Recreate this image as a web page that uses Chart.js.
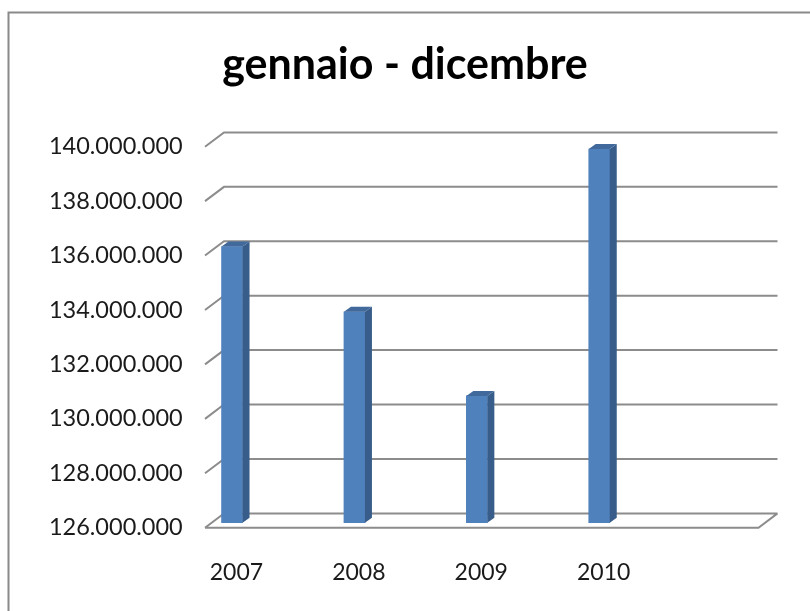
<!DOCTYPE html>
<html>
<head>
<meta charset="utf-8">
<script src="https://cdn.jsdelivr.net/npm/chart.js@4.4.0/dist/chart.umd.min.js"></script>
<style>
  body { margin: 0; background: #fff; }
  #wrap { width: 810px; height: 611px; }
</style>
</head>
<body>
<div id="wrap"><canvas id="chart"></canvas></div>
<script>
const years = ['2007', '2008', '2009', '2010'];
const totals = [136150000, 133750000, 130660000, 139730000];
const yTicks = [126000000, 128000000, 130000000, 132000000, 134000000, 136000000, 138000000, 140000000];
const title = 'gennaio - dicembre';

// fake 3d: back wall offset, bar plane offset and bar depth (px)
const wall = { dx: 19, dy: -14.3 };
const barShift = { dx: 6.6, dy: -5 };
const barDepth = { dx: 7, dy: -5 };

const fmt = v => String(v).replace(/\B(?=(\d{3})+(?!\d))/g, '.');

const frame = {
  id: 'frame',
  beforeDraw(chart) {
    const ctx = chart.ctx;
    ctx.save();
    ctx.strokeStyle = '#8a8a8a';
    ctx.lineWidth = 2;
    ctx.strokeRect(8.5, 12.5, 900, 700);
    ctx.restore();
  }
};

const walls = {
  id: 'walls',
  beforeDatasetsDraw(chart) {
    const { ctx, chartArea: a, scales: { y } } = chart;
    ctx.save();
    ctx.strokeStyle = '#8c8c8c';
    ctx.lineWidth = 2;
    ctx.beginPath();
    yTicks.forEach(v => {
      const py = y.getPixelForValue(v);
      ctx.moveTo(a.left, py);
      ctx.lineTo(a.left + wall.dx, py + wall.dy);
      ctx.lineTo(a.right + wall.dx, py + wall.dy);
    });
    // floor front edge + right side
    const p0 = y.getPixelForValue(yTicks[0]);
    ctx.moveTo(a.left, p0);
    ctx.lineTo(a.right, p0);
    ctx.lineTo(a.right + wall.dx, p0 + wall.dy);
    ctx.stroke();
    ctx.restore();
    // bars stand in the middle of the floor depth
    ctx.save();
    ctx.translate(barShift.dx, barShift.dy);
  },
  afterDatasetsDraw(chart) {
    const ctx = chart.ctx;
    chart.getDatasetMeta(0).data.forEach(bar => {
      const l = bar.x - bar.width / 2, r = bar.x + bar.width / 2;
      ctx.fillStyle = '#385d8a';
      ctx.beginPath();
      ctx.moveTo(r, bar.y);
      ctx.lineTo(r + barDepth.dx, bar.y + barDepth.dy);
      ctx.lineTo(r + barDepth.dx, bar.base + barDepth.dy);
      ctx.lineTo(r, bar.base);
      ctx.closePath();
      ctx.fill();
      ctx.fillStyle = '#41699b';
      ctx.beginPath();
      ctx.moveTo(l, bar.y);
      ctx.lineTo(l + barDepth.dx, bar.y + barDepth.dy);
      ctx.lineTo(r + barDepth.dx, bar.y + barDepth.dy);
      ctx.lineTo(r, bar.y);
      ctx.closePath();
      ctx.fill();
    });
    ctx.restore();
  }
};

new Chart(document.getElementById('chart'), {
  type: 'bar',
  data: {
    datasets: [{
      data: totals.map((v, i) => ({ x: i, y: v })),
      base: yTicks[0],
      backgroundColor: '#4f81bd',
      barThickness: 21,
      clip: false
    }]
  },
  plugins: [frame, walls],
  options: {
    responsive: true,
    maintainAspectRatio: false,
    animation: false,
    layout: { padding: 0 },
    plugins: {
      legend: { display: false },
      tooltip: { enabled: false },
      title: {
        display: true,
        text: title,
        color: '#000',
        font: { family: 'Lato', size: 43, weight: 'bold', lineHeight: 1.2 },
        padding: { top: 38.9, bottom: 56.2 }
      }
    },
    scales: {
      x: {
        type: 'linear',
        offset: false,
        min: -0.167,
        max: 4.355,
        grid: { display: false, drawTicks: false },
        border: { display: false },
        afterBuildTicks: s => { s.ticks = years.map((_, i) => ({ value: i })); },
        afterFit: s => { s.height = 83.3; },
        ticks: {
          callback: v => years[v],
          autoSkip: false,
          maxRotation: 0,
          padding: 31,
          labelOffset: 11,
          color: '#1a1a1a',
          font: { family: 'Lato', size: 23 }
        }
      },
      y: {
        min: yTicks[0],
        max: yTicks[yTicks.length - 1],
        beginAtZero: false,
        grid: { display: false, drawTicks: false },
        border: { display: false },
        afterBuildTicks: s => { s.ticks = yTicks.map(v => ({ value: v })); },
        afterFit: s => { s.width = 205; },
        ticks: {
          callback: v => fmt(v),
          padding: 22.3,
          color: '#1a1a1a',
          font: { family: 'Lato', size: 23.5 }
        }
      },
      pad: {
        position: 'right',
        display: true,
        grid: { display: false, drawTicks: false },
        border: { display: false },
        ticks: { display: false },
        afterFit: s => { s.width = 51.5; }
      }
    }
  }
});
</script>
</body>
</html>
